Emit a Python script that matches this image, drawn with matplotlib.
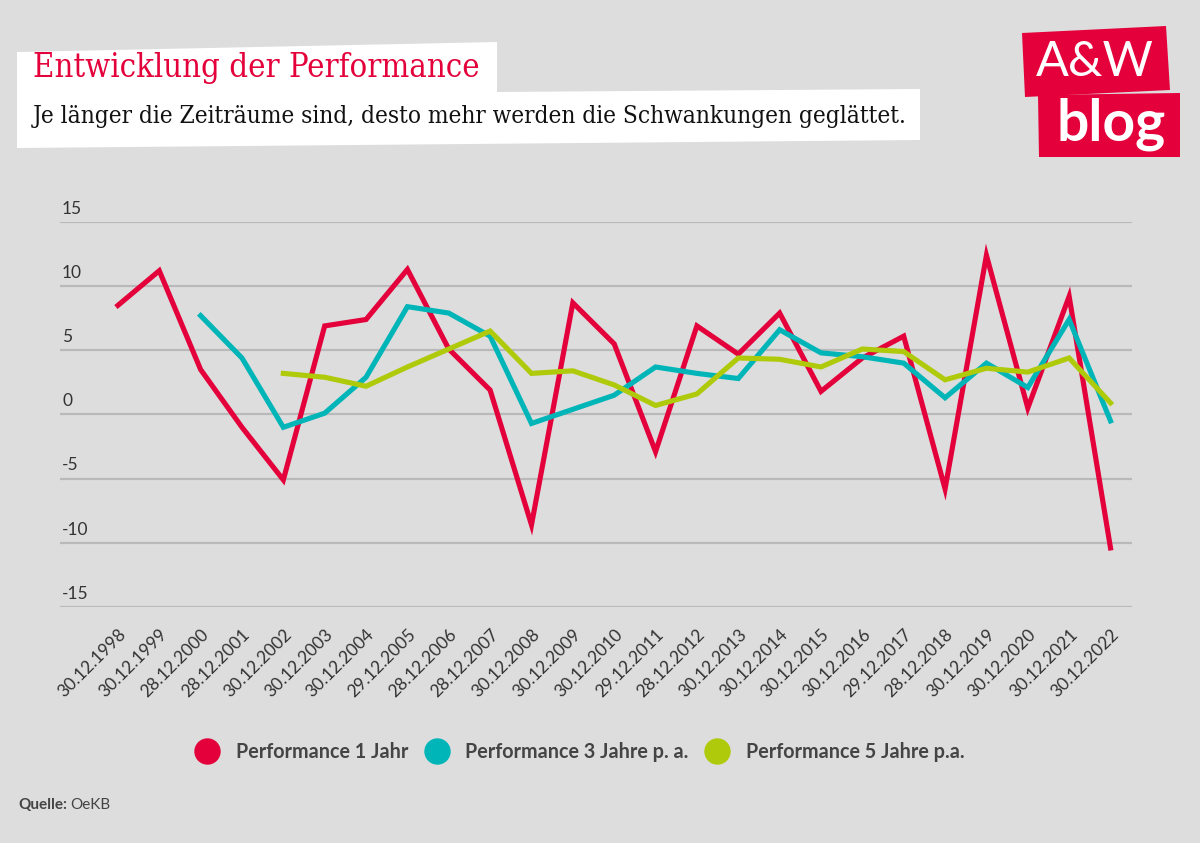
import matplotlib.pyplot as plt
from matplotlib.patches import Polygon
from matplotlib.lines import Line2D

# Stichtage (x-Achse)
dates = ['30.12.1998', '30.12.1999', '28.12.2000', '28.12.2001', '30.12.2002',
         '30.12.2003', '30.12.2004', '29.12.2005', '28.12.2006', '28.12.2007',
         '30.12.2008', '30.12.2009', '30.12.2010', '29.12.2011', '28.12.2012',
         '30.12.2013', '30.12.2014', '30.12.2015', '30.12.2016', '29.12.2017',
         '28.12.2018', '30.12.2019', '30.12.2020', '30.12.2021', '30.12.2022']

perf_1y = [8.5, 11.2, 3.5, -1.0, -5.1, 6.9, 7.4, 11.3, 5.1, 1.9,
           -8.6, 8.7, 5.5, -2.9, 6.9, 4.7, 7.9, 1.8, 4.4, 6.1,
           -5.8, 12.4, 0.5, 9.2, -10.4]
perf_3y = [None, None, 7.7, 4.4, -1.0, 0.1, 2.9, 8.4, 7.9, 6.1,
           -0.7, 0.4, 1.5, 3.7, 3.2, 2.8, 6.6, 4.8, 4.5, 4.0,
           1.3, 4.0, 2.1, 7.4, -0.5]
perf_5y = [None, None, None, None, 3.2, 2.9, 2.2, 3.7, 5.1, 6.5,
           3.2, 3.4, 2.3, 0.7, 1.6, 4.4, 4.3, 3.7, 5.1, 4.9,
           2.7, 3.6, 3.3, 4.4, 0.9]

yticks = [15, 10, 5, 0, -5, -10, -15]

RED = '#e4003a'
TEAL = '#00b5b8'
GREEN = '#afca0b'
BG = '#dddddd'
TEXT = '#333333'

plt.rcParams['font.family'] = ['Lato', 'DejaVu Sans']

fig = plt.figure(figsize=(12, 8.43), dpi=100, facecolor=BG)
ax = fig.add_axes([0.05, 0.280, 0.893, 0.4567])
ax.set_facecolor(BG)

x = list(range(len(dates)))


def series(vals):
    xs = [i for i, v in zip(x, vals) if v is not None]
    ys = [v for v in vals if v is not None]
    return xs, ys


for vals, col in [(perf_1y, RED), (perf_3y, TEAL), (perf_5y, GREEN)]:
    xs, ys = series(vals)
    ax.plot(xs, ys, color=col, lw=3.7, solid_joinstyle='miter', clip_on=False, zorder=3)

ax.set_xlim(-1.40, 24.51)
ax.set_ylim(-15, 15)

# Gitterlinien und y-Beschriftung
for t in yticks:
    ax.axhline(t, color='#b9b9b9', lw=1.6, zorder=1)
    ax.text(-1.35, t + 0.4, str(t), ha='left', va='bottom', fontsize=12.5,
            color=TEXT)

ax.set_yticks([])
ax.set_xticks(x)
ax.set_xticklabels(dates, rotation=45, ha='right', rotation_mode='anchor',
                   fontsize=12.5, color=TEXT)
ax.tick_params(axis='x', length=0, pad=14)
for s in ax.spines.values():
    s.set_visible(False)

# Legende
handles = [Line2D([], [], marker='o', ls='', ms=18, color=c) for c in (RED, TEAL, GREEN)]
labels = ['Performance 1 Jahr', 'Performance 3 Jahre p. a.', 'Performance 5 Jahre p.a.']
leg = fig.legend(handles, labels, loc='center', ncol=3, frameon=False,
                 fontsize=14.2, handletextpad=0.45, columnspacing=0.45)
leg.set_bbox_to_anchor((0.48, 1 - 752 / 843), transform=fig.transFigure)
for t in leg.get_texts():
    t.set_color('#444444')
    t.set_fontweight('bold')

# Quelle
fig.text(18 / 1200, 1 - 805 / 843, 'Quelle:', fontsize=11, fontweight='bold',
         color='#444444', va='center')
fig.text(70 / 1200, 1 - 805 / 843, 'OeKB', fontsize=11, color='#444444', va='center')


def px(points):
    return [(a / 1200, 1 - b / 843) for a, b in points]


# Titelbox
fig.patches.append(Polygon(px([(17, 52), (497, 42), (497, 92), (920, 89),
                               (920, 140), (17, 148)]),
                           closed=True, facecolor='white', edgecolor='none',
                           transform=fig.transFigure))
fig.text(33 / 1200, 1 - 68 / 843, 'Entwicklung der Performance', fontsize=23.5,
         color=RED, family='DejaVu Serif', fontstretch='condensed', va='center')
fig.text(33 / 1200, 1 - 116 / 843,
         'Je länger die Zeiträume sind, desto mehr werden die Schwankungen geglättet.',
         fontsize=17.5, color='#111111', family='DejaVu Serif',
         fontstretch='condensed', va='center')

# Logo
fig.patches.append(Polygon(px([(1022, 33), (1166, 26), (1170, 90), (1025, 97)]),
                           closed=True, facecolor=RED, edgecolor='none',
                           transform=fig.transFigure))
fig.patches.append(Polygon(px([(1038, 95), (1180, 93), (1180, 157), (1039, 157)]),
                           closed=True, facecolor=RED, edgecolor='none',
                           transform=fig.transFigure))
fig.text(1095 / 1200, 1 - 62 / 843, 'A&W', fontsize=35, color='white',
         ha='center', va='center', fontweight='normal')
fig.text(1111 / 1200, 1 - 124 / 843, 'blog', fontsize=41, color='white',
         ha='center', va='center', fontweight='bold')

fig.savefig('out.png', dpi=100, facecolor=BG)
